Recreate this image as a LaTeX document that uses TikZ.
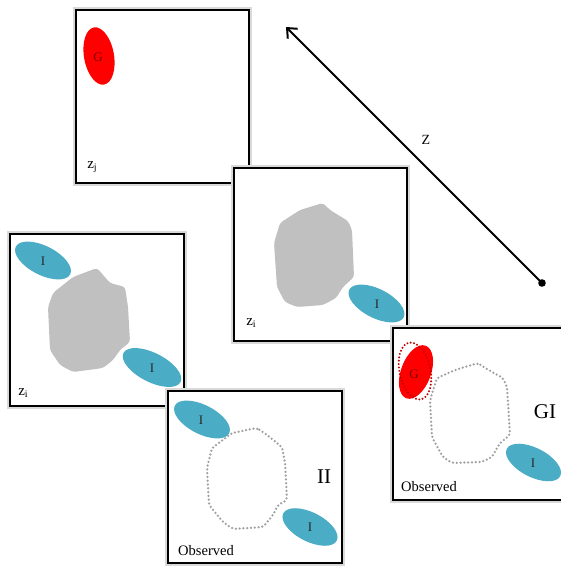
\documentclass[tikz,border=0pt]{standalone}
\usepackage{fontspec}
\setmainfont{Liberation Serif}
\usetikzlibrary{arrows.meta}
\definecolor{blueI}{HTML}{4BACC6}
\definecolor{blobgrey}{HTML}{C0C0C0}
\definecolor{dotgrey}{HTML}{A0A0A0}
\definecolor{redG}{HTML}{FF0000}
\definecolor{darkG}{HTML}{7A0000}
\tikzset{
  frameshadow/.style={draw=black!15, line width=5.5pt},
  framebox/.style={draw=black, fill=white, line width=2.3pt},
  blob/.style={fill=blobgrey, rounded corners=3pt},
  dotblob/.style={draw=dotgrey, line width=2.5pt, dash pattern=on 0pt off 3.8pt, line cap=round, rounded corners=3pt},
  ilab/.style={font=\fontsize{13}{13}\selectfont, text=black!85},
  glab/.style={font=\fontsize{13}{13}\selectfont, text=darkG},
  zlab/.style={font=\fontsize{15}{15}\selectfont, anchor=center},
  obslab/.style={font=\fontsize{14.5}{15}\selectfont},
  biglab/.style={font=\fontsize{21}{21}\selectfont},
}
\newcommand{\frm}[4]{%
  \draw[frameshadow] (#1,#2) rectangle (#3,#4);
  \draw[framebox] (#1,#2) rectangle (#3,#4);}
\newcommand{\ielli}[4]{% x y xr angle
  \fill[blueI, rotate around={#4:(#1,#2)}] (#1,#2) ellipse [x radius=#3pt, y radius=14.5pt];}
\begin{document}
\begin{tikzpicture}[x=1pt,y=-1pt]
\useasboundingbox (0,0) rectangle (561,566);
% Frame 1
\frm{76}{10}{249}{183}
\fill[redG, rotate around={10:(99,56)}] (99,56) ellipse [x radius=15pt, y radius=29pt];
\node[glab] (g1) at (98,57) {G};
\node[zlab] (zj) at (92,167) {z\raisebox{-0.4ex}{\fontsize{10}{10}\selectfont j}};
% Frame 2
\frm{234}{168}{407}{341}
\fill[blob] (323,203) -- (330,210) -- (348,221) -- (352,230) -- (354,277) -- (343,287) -- (336,298) -- (323,305) -- (297,307) -- (285,302) -- (277,287) -- (274,243) -- (280,223) -- (300,210) -- cycle;
\ielli{376.5}{303.5}{30.5}{-27}
\node[ilab] (i2) at (377,304) {I};
\node[zlab] (zi2) at (251,323) {z\raisebox{-0.4ex}{\fontsize{10}{10}\selectfont i}};
% Frame 3
\frm{10}{234}{184}{406}
\fill[blob] (97,268) -- (110,283) -- (125,287) -- (128,307) -- (130,342) -- (120,350) -- (113,360) -- (103,368) -- (73,372) -- (60,365) -- (50,350) -- (48,307) -- (53,293) -- (73,277) -- cycle;
\ielli{43}{260.5}{30.5}{-27}
\ielli{152}{367.5}{32}{-27}
\node[ilab] (i3a) at (43,261) {I};
\node[ilab] (i3b) at (152,368) {I};
\node[zlab] (zi3) at (23,393) {z\raisebox{-0.4ex}{\fontsize{10}{10}\selectfont i}};
% Frame 4
\frm{168}{391}{342}{563}
\draw[dotblob] (257,428) -- (267,435) -- (282,447) -- (285,462) -- (287,500) -- (278,505) -- (273,515) -- (263,527) -- (233,529) -- (223,522) -- (209,505) -- (207,468) -- (212,448) -- (232,433) -- cycle;
\ielli{202}{419.5}{30.5}{-27}
\ielli{310}{527}{30}{-27}
\node[ilab] (i4a) at (201,420) {I};
\node[ilab] (i4b) at (310,527) {I};
\node[biglab] (ii) at (324,477) {II};
\node[obslab] (obs4) at (206,551) {Observed};
% Frame 5
\frm{393}{328}{567}{500}
\draw[dotblob] (478,363) -- (485,368) -- (503,378) -- (507,387) -- (510,435) -- (500,443) -- (492,457) -- (482,462) -- (452,463) -- (443,457) -- (432,437) -- (430,400) -- (437,378) -- (455,370) -- cycle;
\fill[redG, rotate around={-20:(416,372)}] (416,372) ellipse [x radius=15pt, y radius=28pt];
\draw[redG!75!black, line width=2.2pt, dash pattern=on 0pt off 3.4pt, line cap=round, rotate around={12:(415,371)}] (415,371) ellipse [x radius=15.5pt, y radius=29pt];
\node[glab] (g5) at (414,374) {G};
\ielli{533.5}{462.5}{30}{-27}
\node[ilab] (i5) at (533,463) {I};
\node[biglab] (gi) at (545,412) {GI};
\node[obslab] (obs5) at (429,487) {Observed};
% Arrow Z
\coordinate (zs) at (542,283);
\coordinate (ze) at (286,27);
\fill (zs) circle (3.8pt);
\draw[line width=2pt, -{Straight Barb[length=8pt,width=14pt,line width=2pt]}] (zs) -- (ze);
\node[font=\fontsize{14}{14}\selectfont] (z) at (426,140) {Z};
\end{tikzpicture}
\end{document}
